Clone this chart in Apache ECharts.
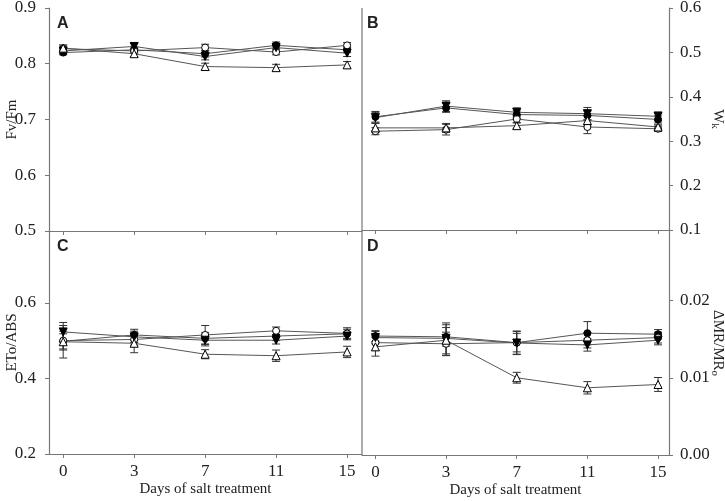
<!DOCTYPE html>
<html><head><meta charset="utf-8">
<script src="https://cdn.jsdelivr.net/npm/echarts@6/dist/echarts.min.js"></script>
<style>html,body{margin:0;padding:0;background:#fff}#c{width:725px;height:501px}</style>
</head><body><div id="c"></div>
<script>
const days = ['0','3','7','11','15'];

// Panel A: Fv/Fm
const A_fc = [0.820,0.825,0.818,0.833,0.825];
const A_oc = [0.827,0.823,0.829,0.821,0.833];
const A_ft = [0.823,0.831,0.813,0.829,0.819];
const A_ot = [0.828,0.818,0.795,0.793,0.798];
const A_fc_e = [0.004,0.005,0.006,0.006,0.005];
const A_oc_e = [0.005,0.004,0.006,0.005,0.005];
const A_ft_e = [0.005,0.006,0.006,0.006,0.006];
const A_ot_e = [0.006,0.005,0.006,0.006,0.006];

// Panel B: Wk
const B_fc = [0.355,0.375,0.360,0.358,0.349];
const B_ft = [0.353,0.379,0.365,0.362,0.356];
const B_oc = [0.3225,0.326,0.350,0.332,0.328];
const B_ot = [0.330,0.330,0.335,0.3465,0.332];
const B_fc_e = [0.012,0.010,0.008,0.010,0.008];
const B_ft_e = [0.012,0.012,0.010,0.014,0.010];
const B_oc_e = [0.008,0.012,0.008,0.015,0.006];
const B_ot_e = [0.010,0.010,0.006,0.010,0.005];

// Panel C: ETo/ABS
const C_fc = [0.498,0.515,0.506,0.512,0.518];
const C_oc = [0.500,0.503,0.515,0.526,0.519];
const C_ft = [0.523,0.510,0.501,0.501,0.512];
const C_ot = [0.497,0.493,0.464,0.460,0.470];
const C_fc_e = [0.020,0.015,0.015,0.012,0.012];
const C_oc_e = [0.025,0.015,0.025,0.010,0.015];
const C_ft_e = [0.025,0.015,0.015,0.010,0.010];
const C_ot_e = [0.043,0.025,0.012,0.015,0.015];

// Panel D: ΔMR/MRo
const D_fc = [0.0154,0.0153,0.01455,0.01577,0.01564];
const D_oc = [0.01455,0.0144,0.01455,0.01486,0.0152];
const D_ft = [0.0152,0.0151,0.0145,0.01425,0.01486];
const D_ot = [0.0140,0.01486,0.0100,0.0087,0.00913];
const D_fc_e = [0.0007,0.0012,0.0012,0.0015,0.0006];
const D_oc_e = [0.0010,0.0015,0.0015,0.0010,0.0007];
const D_ft_e = [0.0008,0.0020,0.0015,0.0008,0.0006];
const D_ot_e = [0.0012,0.0020,0.0007,0.0008,0.0009];

const serif = 'Liberation Serif';
const axisCol = '#777';
const txtCol = '#222';

const chart = echarts.init(document.getElementById('c'));

const grids = [
  {left:49, top:8, width:313, height:223, outerBoundsMode:'none', containLabel:false},
  {left:362, top:8, width:307, height:222, outerBoundsMode:'none', containLabel:false},
  {left:49, top:231, width:313, height:223, outerBoundsMode:'none', containLabel:false},
  {left:362, top:231, width:307, height:224, outerBoundsMode:'none', containLabel:false}
];

function xAx(gi, showLabels, left) {
  return {
    type:'value', gridIndex:gi,
    min: left ? -0.2 : -0.19, max: left ? 4.21 : 4.155,
    axisLine:{show:true, onZero:false, lineStyle:{color:axisCol, width:1.2}},
    axisTick:{show:true, length:4, inside:false, customValues:[0,1,2,3,4], lineStyle:{color:axisCol}},
    splitLine:{show:false},
    axisLabel:{show:showLabels, customValues:[0,1,2,3,4], formatter:v=>days[Math.round(v)]||'',
      fontFamily:serif, fontSize:17, color:txtCol, margin:9},
    name: showLabels ? 'Days of salt treatment' : '',
    nameLocation:'middle', nameGap:28,
    nameTextStyle:{fontFamily:serif, fontSize:15, color:txtCol}
  };
}

function yAx(gi, pos, min, max, vals, dec, name) {
  return {
    type:'value', gridIndex:gi, position:pos, min:min, max:max,
    axisLine:{show:true, onZero:false, lineStyle:{color:axisCol, width:1.2}},
    axisTick:{show:true, length:4, customValues:vals, lineStyle:{color:axisCol}},
    splitLine:{show:false},
    axisLabel:{customValues:vals, formatter:v=>v.toFixed(dec), fontFamily:serif, fontSize:17, color:txtCol,
      margin: pos==='left' ? 13 : 11},
    name:name, nameLocation:'middle', nameMoveOverlap:false,
    nameRotate: pos==='left' ? 90 : -90,
    nameGap: pos==='left' ? 29 : 40,
    nameTextStyle:{fontFamily:serif, fontSize:15, color:txtCol,
      rich:{sub:{fontFamily:serif, fontSize:11, color:txtCol, verticalAlign:'bottom', padding:[6,0,0,0]}}}
  };
}

const symDefs = [
  {key:'fc', symbol:'circle', rotate:0, fill:'#000'},
  {key:'oc', symbol:'circle', rotate:0, fill:'#fff'},
  {key:'ft', symbol:'triangle', rotate:180, fill:'#000'},
  {key:'ot', symbol:'triangle', rotate:0, fill:'#fff'}
];

const panels = [
  {fc:A_fc, oc:A_oc, ft:A_ft, ot:A_ot, fc_e:A_fc_e, oc_e:A_oc_e, ft_e:A_ft_e, ot_e:A_ot_e},
  {fc:B_fc, oc:B_oc, ft:B_ft, ot:B_ot, fc_e:B_fc_e, oc_e:B_oc_e, ft_e:B_ft_e, ot_e:B_ot_e},
  {fc:C_fc, oc:C_oc, ft:C_ft, ot:C_ot, fc_e:C_fc_e, oc_e:C_oc_e, ft_e:C_ft_e, ot_e:C_ot_e},
  {fc:D_fc, oc:D_oc, ft:D_ft, ot:D_ot, fc_e:D_fc_e, oc_e:D_oc_e, ft_e:D_ft_e, ot_e:D_ot_e}
];

function errRender(params, api) {
  const x = api.value(0), lo = api.value(1), hi = api.value(2);
  const p1 = api.coord([x, lo]), p2 = api.coord([x, hi]);
  const w = 4;
  const st = {stroke:'#333', lineWidth:1};
  return {type:'group', children:[
    {type:'line', shape:{x1:p1[0], y1:p1[1], x2:p2[0], y2:p2[1]}, style:st},
    {type:'line', shape:{x1:p1[0]-w, y1:p1[1], x2:p1[0]+w, y2:p1[1]}, style:st},
    {type:'line', shape:{x1:p2[0]-w, y1:p2[1], x2:p2[0]+w, y2:p2[1]}, style:st}
  ]};
}

const series = [];
panels.forEach((p, gi) => {
  symDefs.forEach(s => {
    const vals = p[s.key], errs = p[s.key + '_e'];
    series.push({
      type:'custom', xAxisIndex:gi, yAxisIndex:gi, renderItem:errRender,
      encode:{x:0, y:[1,2]}, z:2, silent:true,
      data: vals.map((v,i)=>[i, v-errs[i], v+errs[i]])
    });
    series.push({
      type:'line', xAxisIndex:gi, yAxisIndex:gi, z:3,
      data: vals.map((v,i)=>[i, v]),
      symbol:s.symbol, symbolRotate:s.rotate, symbolSize: s.symbol==='circle' ? 7 : 8,
      showAllSymbol:true, animation:false,
      lineStyle:{color:'#555', width:1},
      itemStyle:{color:s.fill, borderColor:'#000', borderWidth:1}
    });
  });
});

const letter = (t, x, y) => ({type:'text', left:x, top:y, style:{text:t, font:'bold 16px "Liberation Sans"', fill:'#222'}});

chart.setOption({
  animation:false,
  grid: grids,
  xAxis:[xAx(0,false,true), xAx(1,false,false), xAx(2,true,true), xAx(3,true,false)],
  yAxis:[
    yAx(0,'left',0.5,0.9,[0.5,0.6,0.7,0.8,0.9],1,'Fv/Fm'),
    yAx(1,'right',0.1,0.6,[0.1,0.2,0.3,0.4,0.5,0.6],1,'W{sub|k}'),
    yAx(2,'left',0.2,0.79,[0.2,0.4,0.6],1,'ETo/ABS'),
    yAx(3,'right',0,0.029,[0,0.01,0.02],2,'ΔMR/MR{sub|o}')
  ],
  graphic:[
    {type:'line', shape:{x1:362, y1:8, x2:362, y2:455}, style:{stroke:axisCol, lineWidth:1.2}},
    letter('A', 57, 16), letter('B', 367, 16), letter('C', 57, 239), letter('D', 367, 239)
  ],
  series: series
});
</script></body></html>
